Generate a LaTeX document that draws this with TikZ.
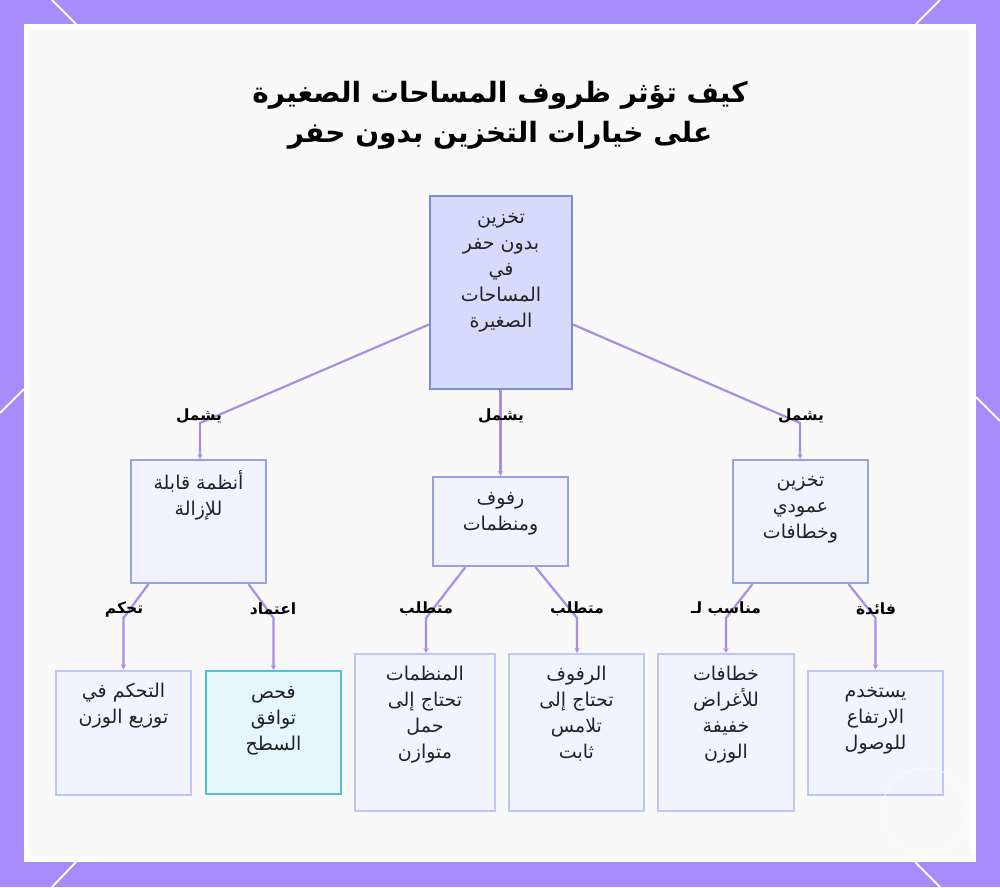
\documentclass[tikz,border=0pt]{standalone}
\usepackage{fontspec}
\usetikzlibrary{arrows.meta}
\TeXXeTstate=1
\newfontfamily\arabicfont[Script=Arabic]{DejaVu Sans}
\newfontfamily\arabicbold[Script=Arabic]{DejaVu Sans Bold}
\definecolor{bgpurple}{HTML}{A78BFA}
\definecolor{panel}{HTML}{F9F9FA}
\definecolor{edgecol}{HTML}{A98DE6}
\definecolor{rootfill}{HTML}{D7DBFB}
\definecolor{rootdraw}{HTML}{7D8BD8}
\definecolor{boxfill}{HTML}{F1F3FE}
\definecolor{boxdraw}{HTML}{95A3E6}
\definecolor{leafdraw}{HTML}{BEC7F3}
\definecolor{cyanfill}{HTML}{E6F6FD}
\definecolor{cyandraw}{HTML}{4EC1E0}
\definecolor{txt}{HTML}{222222}
\newcommand{\AR}[1]{\beginR #1\endR}
\newcommand{\ARL}[1]{\rule{0pt}{16pt}\beginR #1\endR}
\tikzset{
  box/.style={draw=boxdraw, fill=boxfill, line width=2pt, inner sep=0pt},
  leafbox/.style={draw=leafdraw, fill=boxfill, line width=2pt, inner sep=0pt},
  boxtext/.style={anchor=north, inner sep=0pt, align=center, text=txt,
    font=\arabicfont\fontsize{19}{26}\selectfont},
  edge/.style={draw=edgecol, line width=2.2pt, -{Stealth[length=5pt,width=5pt]}},
  lbl/.style={inner sep=0pt, text=black, font=\arabicbold\fontsize{15.5}{17}\selectfont},
}
\begin{document}
\begin{tikzpicture}[x=1pt,y=-1pt]
\useasboundingbox (0,0) rectangle (1000,887);
% frame
\fill[bgpurple] (0,0) rectangle (1000,887);
\draw[white, line width=2pt] (52,0) -- (76,24);
\draw[white, line width=2pt] (940,0) -- (916,24);
\draw[white, line width=2pt] (0,413) -- (24,389);
\draw[white, line width=2pt] (976,397) -- (1000,421);
\draw[white, line width=2pt] (76,862) -- (52,887);
\draw[white, line width=2pt] (915,862) -- (940,887);
\fill[white] (24,24) rectangle (976,862);
\fill[panel] (29,29) rectangle (971,857);
% title
\node[align=center, text=black, font=\arabicbold\fontsize{28}{40}\selectfont] (title) at (500,115)
  {\AR{كيف تؤثر ظروف المساحات الصغيرة}\\\AR{على خيارات التخزين بدون حفر}};
% boxes
\node[draw=rootdraw, fill=rootfill, line width=2pt, inner sep=0pt,
  minimum width=142pt, minimum height=193pt] (root) at (501,292.5) {};
\node[box, minimum width=135pt, minimum height=123pt] (lc) at (198.5,521.5) {};
\node[box, minimum width=135pt, minimum height=89pt] (mc) at (500.5,521.5) {};
\node[box, minimum width=135pt, minimum height=123pt] (rc) at (800.5,521.5) {};
\node[leafbox, minimum width=135pt, minimum height=124pt] (l1) at (123.5,732.5) {};
\node[draw=cyandraw, fill=cyanfill, line width=2pt, inner sep=0pt,
  minimum width=135pt, minimum height=123pt] (l2) at (273.5,732.5) {};
\node[leafbox, minimum width=140pt, minimum height=157pt] (l3) at (425,732.5) {};
\node[leafbox, minimum width=135pt, minimum height=157pt] (l4) at (576.5,732.5) {};
\node[leafbox, minimum width=136pt, minimum height=157pt] (l5) at (726,732.5) {};
\node[leafbox, minimum width=135pt, minimum height=124pt] (l6) at (875.5,732.5) {};
% texts
\node[boxtext] (troot) at ([yshift=-12pt]root.north) {\ARL{تخزين}\\\ARL{بدون حفر}\\\ARL{في}\\\ARL{المساحات}\\\ARL{الصغيرة}};
\node[boxtext] (tlc) at ([yshift=-11pt]lc.north) {\ARL{أنظمة قابلة}\\\ARL{للإزالة}};
\node[boxtext] (tmc) at ([yshift=-12pt]mc.north) {\ARL{رفوف}\\\ARL{ومنظمات}};
\node[boxtext] (trc) at ([yshift=-11pt]rc.north) {\ARL{تخزين}\\\ARL{عمودي}\\\ARL{وخطافات}};
\node[boxtext] (tl1) at ([yshift=-12pt]l1.north) {\ARL{التحكم في}\\\ARL{توزيع الوزن}};
\node[boxtext] (tl2) at ([yshift=-12pt]l2.north) {\ARL{فحص}\\\ARL{توافق}\\\ARL{السطح}};
\node[boxtext] (tl3) at ([yshift=-11pt]l3.north) {\ARL{المنظمات}\\\ARL{تحتاج إلى}\\\ARL{حمل}\\\ARL{متوازن}};
\node[boxtext] (tl4) at ([yshift=-11pt]l4.north) {\ARL{الرفوف}\\\ARL{تحتاج إلى}\\\ARL{تلامس}\\\ARL{ثابت}};
\node[boxtext] (tl5) at ([yshift=-11pt]l5.north) {\ARL{خطافات}\\\ARL{للأغراض}\\\ARL{خفيفة}\\\ARL{الوزن}};
\node[boxtext] (tl6) at ([yshift=-12pt]l6.north) {\ARL{يستخدم}\\\ARL{الارتفاع}\\\ARL{للوصول}};
% edges level 1
\draw[edge] ([yshift=-32pt]root.west) -- ([xshift=1.5pt]lc.north |- 0,423) -- ([xshift=1.5pt]lc.north);
\draw[edge] ([xshift=-0.5pt]root.south) -- (mc.north);
\draw[edge] ([yshift=-32pt]root.east) -- ([xshift=-0.5pt]rc.north |- 0,423) -- ([xshift=-0.5pt]rc.north);
% edges level 2
\draw[edge] ([xshift=-50pt]lc.south) -- (l1.north |- 0,618) -- (l1.north);
\draw[edge] ([xshift=50pt]lc.south) -- (l2.north |- 0,618) -- (l2.north);
\draw[edge] ([xshift=-35pt]mc.south) -- ([xshift=1pt]l3.north |- 0,618) -- ([xshift=1pt]l3.north);
\draw[edge] ([xshift=35pt]mc.south) -- ([xshift=0.5pt]l4.north |- 0,618) -- ([xshift=0.5pt]l4.north);
\draw[edge] ([xshift=-48pt]rc.south) -- (l5.north |- 0,618) -- (l5.north);
\draw[edge] ([xshift=48pt]rc.south) -- (l6.north |- 0,618) -- (l6.north);
% labels
\node[lbl] (e1) at (199,416) {\AR{يشمل}};
\node[lbl] (e2) at (501,416) {\AR{يشمل}};
\node[lbl] (e3) at (801,416) {\AR{يشمل}};
\node[lbl] (e4) at (124,609) {\AR{تحكم}};
\node[lbl] (e5) at (273,609) {\AR{اعتماد}};
\node[lbl] (e6) at (426,609) {\AR{متطلب}};
\node[lbl] (e7) at (577,609) {\AR{متطلب}};
\node[lbl] (e8) at (726,609) {\AR{مناسب لـ}};
\node[lbl] (e9) at (876,609) {\AR{فائدة}};
% faint watermark circle
\draw[white, line width=0.8pt, opacity=0.8] (925,811) circle (43);
\end{tikzpicture}
\end{document}
